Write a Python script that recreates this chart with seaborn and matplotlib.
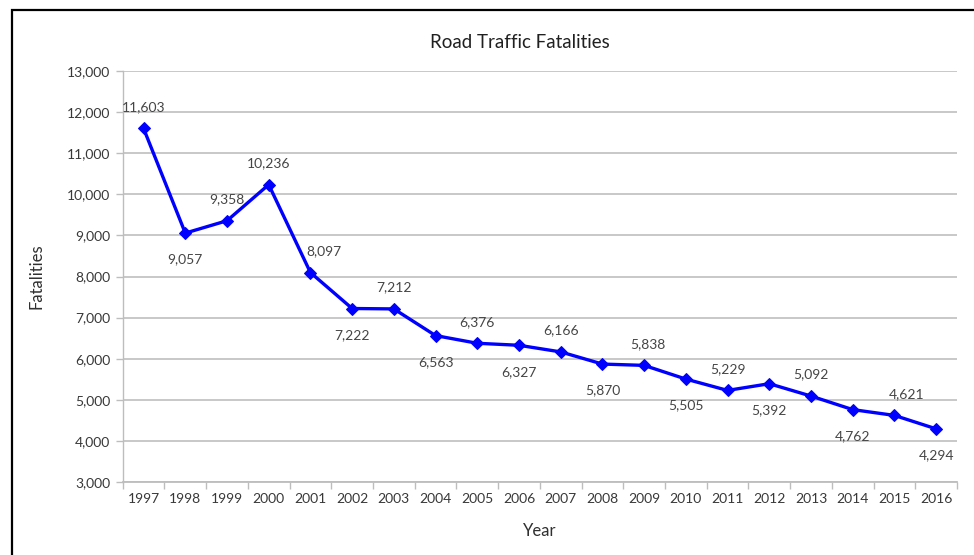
import numpy as np
import pandas as pd
import matplotlib
matplotlib.use('Agg')
import matplotlib.pyplot as plt
import seaborn as sns
from matplotlib.ticker import FuncFormatter
from matplotlib.patches import Rectangle

# data
years = ['1997', '1998', '1999', '2000', '2001', '2002', '2003', '2004', '2005', '2006',
         '2007', '2008', '2009', '2010', '2011', '2012', '2013', '2014', '2015', '2016']
fatalities = [11603, 9057, 9358, 10236, 8097, 7222, 7212, 6563, 6376, 6327,
              6166, 5870, 5838, 5505, 5229, 5392, 5092, 4762, 4621, 4294]

df = pd.DataFrame({'pos': np.arange(len(years)), 'Fatalities': fatalities})

sns.set_theme(style='white')
plt.rcParams['font.family'] = ['Lato', 'DejaVu Sans']

fig = plt.figure(figsize=(9.74, 5.55), dpi=100)
ax = fig.add_axes([0.126, 0.1315, 0.8565, 0.7405])

sns.lineplot(data=df, x='pos', y='Fatalities', ax=ax, color='#0000ff', linewidth=2.4,
             marker='D', markersize=6, markeredgecolor='#0000ff', zorder=3)

# label placement (points offset), below for these years, above otherwise
below = {'1998', '2002', '2004', '2006', '2008', '2010', '2012', '2014', '2016'}
dx_extra = {'2001': 10, '2015': 9, '2009': 3}
for i, (yr, v) in enumerate(zip(years, fatalities)):
    dy = -19 if yr in below else 15.5
    ax.annotate(f'{v:,}', (i, v), xytext=(dx_extra.get(yr, 0), dy),
                textcoords='offset points', ha='center', va='center',
                fontsize=10, color='#454545')

ax.set_xlim(-0.5, len(years) - 0.5)
ax.set_ylim(3000, 13000)
ax.set_yticks(range(3000, 13001, 1000))
ax.yaxis.set_major_formatter(FuncFormatter(lambda v, p: f'{int(v):,}'))
ax.set_xticks(np.arange(len(years)))
ax.set_xticklabels(years)
ax.set_xticks(np.arange(len(years) + 1) - 0.5, minor=True)

ax.grid(axis='y', color='#c4c4c4', linewidth=1.3)
ax.set_axisbelow(True)
for s in ['top', 'right']:
    ax.spines[s].set_visible(False)
ax.spines['left'].set_color('#bdbdbd')
ax.spines['bottom'].set_color('#bdbdbd')
ax.spines['left'].set_linewidth(1.0)
ax.spines['bottom'].set_linewidth(1.3)

ax.tick_params(axis='x', which='major', length=0, labelsize=10, colors='#383838', pad=8)
ax.tick_params(axis='x', which='minor', length=5, color='#bdbdbd', width=1, direction='out', bottom=True)
ax.tick_params(axis='y', which='major', length=5, color='#bdbdbd', width=1, direction='out',
               left=True, labelsize=10, labelcolor='#383838', pad=4)

ax.set_xlabel('Year', fontsize=12, color='#303030', labelpad=13)
ax.set_ylabel('Fatalities', fontsize=12, color='#303030', labelpad=16)
fig.text(0.534, 0.923, 'Road Traffic Fatalities', ha='center', va='center',
         fontsize=13.5, color='#202020')

# outer chart border
fig.patches.append(Rectangle((12 / 974, -0.05), 1.0, 1 - 10 / 555 + 0.05,
                             transform=fig.transFigure, fill=False,
                             edgecolor='black', linewidth=1.6))

fig.savefig('out.png', dpi=100)
